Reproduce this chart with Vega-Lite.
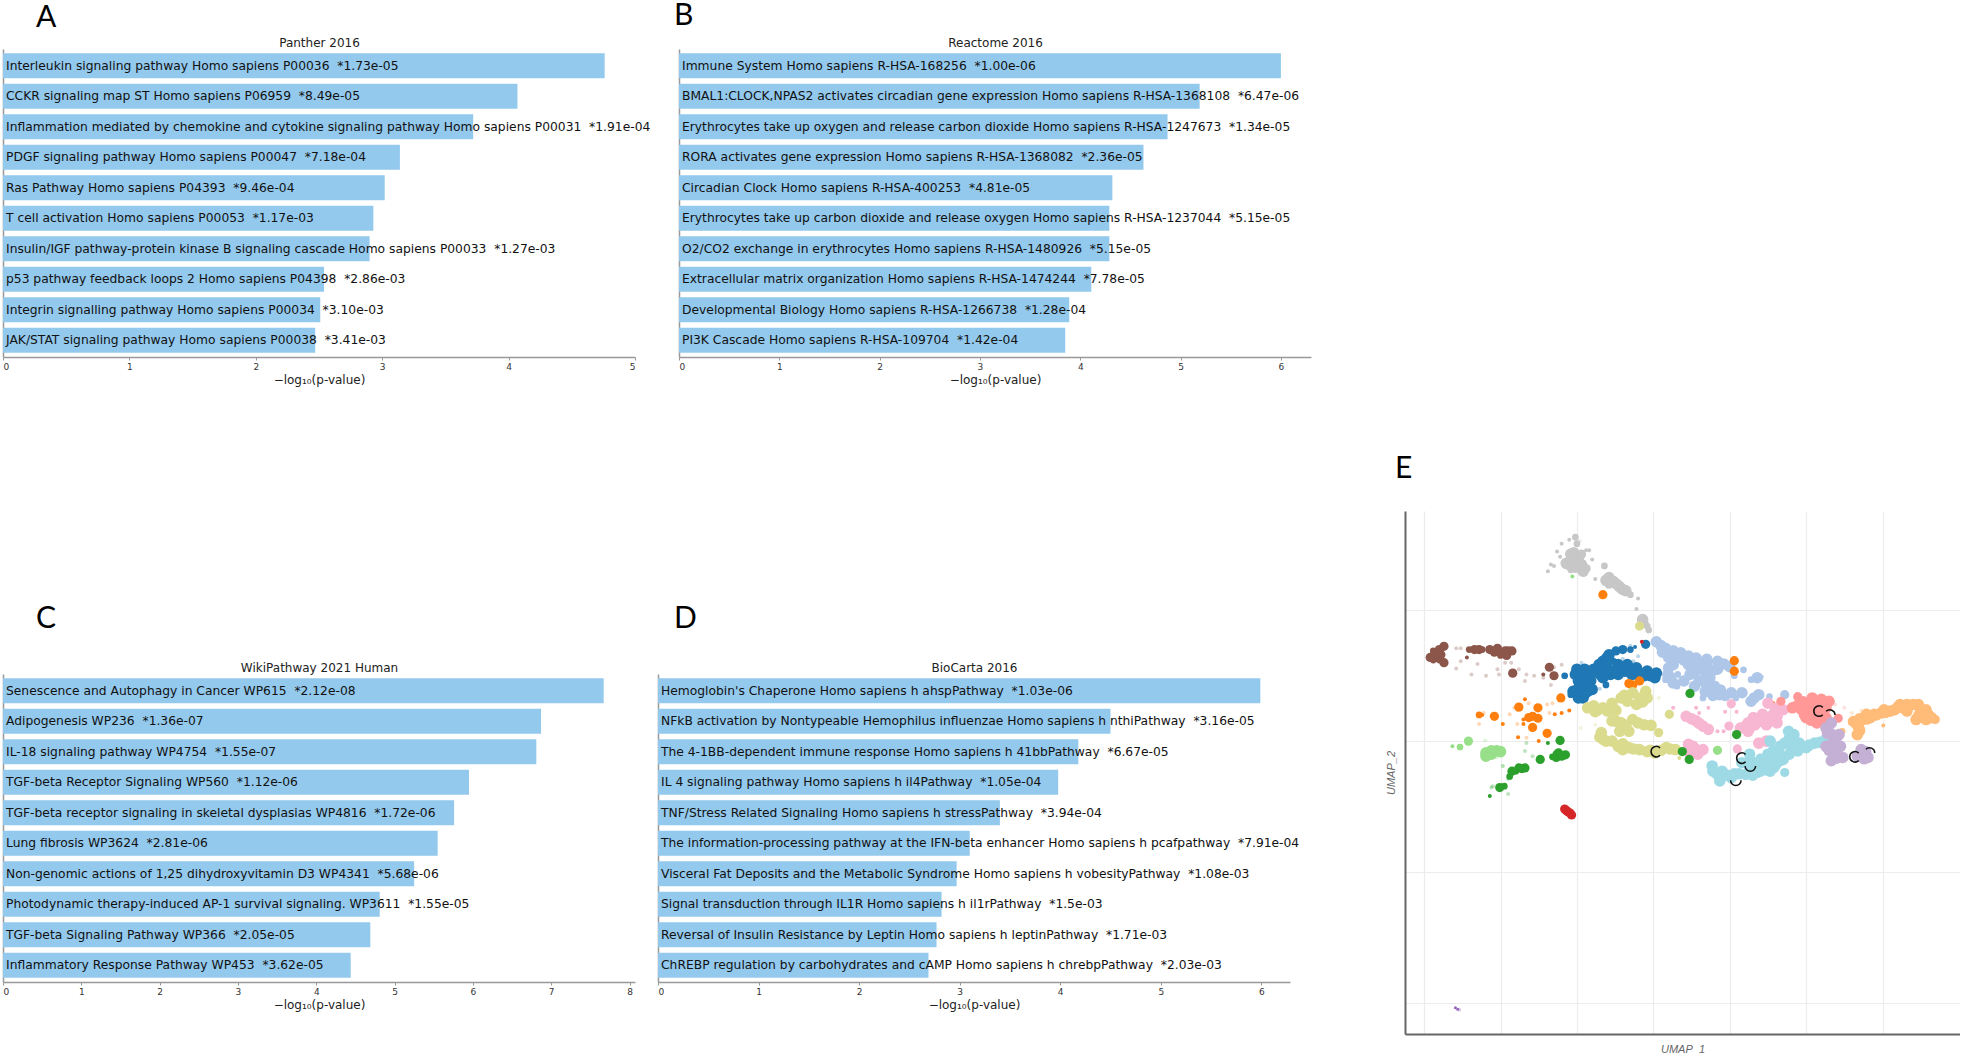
{"$schema":"https://vega.github.io/schema/vega-lite/v6.json","background":"white","padding":{"left":2,"top":1,"right":0,"bottom":0},
"config":{"view":{"stroke":null},"font":"DejaVu Sans","title":{"font":"Lato","fontSize":30,"fontWeight":"normal","color":"#000","anchor":"start","frame":"group","baseline":"bottom"}},
"hconcat":[
{"spacing":219,"vconcat":[
{"bounds":"flush","spacing":44,"hconcat":[
{"width":632,"height":308,"title":{"text":"A","dx":33,"offset":3},"data":{"values":[
{"label":"Interleukin signaling pathway Homo sapiens P00036 \u00a0*1.73e-05","value":4.76},
{"label":"CCKR signaling map ST Homo sapiens P06959 \u00a0*8.49e-05","value":4.07},
{"label":"Inflammation mediated by chemokine and cytokine signaling pathway Homo sapiens P00031 \u00a0*1.91e-04","value":3.72},
{"label":"PDGF signaling pathway Homo sapiens P00047 \u00a0*7.18e-04","value":3.14},
{"label":"Ras Pathway Homo sapiens P04393 \u00a0*9.46e-04","value":3.02},
{"label":"T cell activation Homo sapiens P00053 \u00a0*1.17e-03","value":2.93},
{"label":"Insulin/IGF pathway-protein kinase B signaling cascade Homo sapiens P00033 \u00a0*1.27e-03","value":2.90},
{"label":"p53 pathway feedback loops 2 Homo sapiens P04398 \u00a0*2.86e-03","value":2.54},
{"label":"Integrin signalling pathway Homo sapiens P00034 \u00a0*3.10e-03","value":2.51},
{"label":"JAK/STAT signaling pathway Homo sapiens P00038 \u00a0*3.41e-03","value":2.47}]},
"encoding":{"y":{"field":"label","type":"nominal","sort":null,"scale":{"paddingInner":0.18,"paddingOuter":0.139},"axis":{"labels":false,"ticks":false,"title":null,"domainColor":"#999","domainWidth":1.5,"grid":false}}},
"layer":[
{"mark":{"type":"bar","color":"#93C9ED"},"encoding":{"x":{"field":"value","type":"quantitative","scale":{"domain":[0,5],"nice":false},"axis":{"orient":"bottom","values":[0,1,2,3,4,5],"grid":false,"format":"d","domainColor":"#999","domainWidth":1.5,"tickColor":"#999","tickSize":3,"labelFontSize":9,"labelColor":"#333","labelPadding":2,"title":"−log₁₀(p-value)","titleFontSize":12,"titleFontWeight":"normal","titleColor":"#222","titlePadding":3}}}},
{"mark":{"type":"text","align":"left","dx":3,"fontSize":12.3,"color":"#111"},"encoding":{"text":{"field":"label"},"x":{"datum":0,"type":"quantitative","scale":{"domain":[0,5],"nice":false},"axis":{"orient":"top","labels":false,"ticks":false,"domain":false,"grid":false,"title":"Panther 2016","titleFontSize":12,"titleFontWeight":"normal","titleColor":"#222","titlePadding":0}}}}
]},
{"width":632,"height":308,"title":{"text":"B","dx":-5,"offset":5},"data":{"values":[
{"label":"Immune System Homo sapiens R-HSA-168256 \u00a0*1.00e-06","value":6.00},
{"label":"BMAL1:CLOCK,NPAS2 activates circadian gene expression Homo sapiens R-HSA-1368108 \u00a0*6.47e-06","value":5.19},
{"label":"Erythrocytes take up oxygen and release carbon dioxide Homo sapiens R-HSA-1247673 \u00a0*1.34e-05","value":4.87},
{"label":"RORA activates gene expression Homo sapiens R-HSA-1368082 \u00a0*2.36e-05","value":4.63},
{"label":"Circadian Clock Homo sapiens R-HSA-400253 \u00a0*4.81e-05","value":4.32},
{"label":"Erythrocytes take up carbon dioxide and release oxygen Homo sapiens R-HSA-1237044 \u00a0*5.15e-05","value":4.29},
{"label":"O2/CO2 exchange in erythrocytes Homo sapiens R-HSA-1480926 \u00a0*5.15e-05","value":4.29},
{"label":"Extracellular matrix organization Homo sapiens R-HSA-1474244 \u00a0*7.78e-05","value":4.11},
{"label":"Developmental Biology Homo sapiens R-HSA-1266738 \u00a0*1.28e-04","value":3.89},
{"label":"PI3K Cascade Homo sapiens R-HSA-109704 \u00a0*1.42e-04","value":3.85}]},
"encoding":{"y":{"field":"label","type":"nominal","sort":null,"scale":{"paddingInner":0.18,"paddingOuter":0.139},"axis":{"labels":false,"ticks":false,"title":null,"domainColor":"#999","domainWidth":1.5,"grid":false}}},
"layer":[
{"mark":{"type":"bar","color":"#93C9ED"},"encoding":{"x":{"field":"value","type":"quantitative","scale":{"domain":[0,6.3],"nice":false},"axis":{"orient":"bottom","values":[0,1,2,3,4,5,6],"grid":false,"format":"d","domainColor":"#999","domainWidth":1.5,"tickColor":"#999","tickSize":3,"labelFontSize":9,"labelColor":"#333","labelPadding":2,"title":"−log₁₀(p-value)","titleFontSize":12,"titleFontWeight":"normal","titleColor":"#222","titlePadding":3}}}},
{"mark":{"type":"text","align":"left","dx":3,"fontSize":12.3,"color":"#111"},"encoding":{"text":{"field":"label"},"x":{"datum":0,"type":"quantitative","scale":{"domain":[0,6.3],"nice":false},"axis":{"orient":"top","labels":false,"ticks":false,"domain":false,"grid":false,"title":"Reactome 2016","titleFontSize":12,"titleFontWeight":"normal","titleColor":"#222","titlePadding":0}}}}
]}
]},
{"bounds":"flush","spacing":23,"hconcat":[
{"width":632,"height":308,"title":{"text":"C","dx":33,"offset":27},"data":{"values":[
{"label":"Senescence and Autophagy in Cancer WP615 \u00a0*2.12e-08","value":7.67},
{"label":"Adipogenesis WP236 \u00a0*1.36e-07","value":6.87},
{"label":"IL-18 signaling pathway WP4754 \u00a0*1.55e-07","value":6.81},
{"label":"TGF-beta Receptor Signaling WP560 \u00a0*1.12e-06","value":5.95},
{"label":"TGF-beta receptor signaling in skeletal dysplasias WP4816 \u00a0*1.72e-06","value":5.76},
{"label":"Lung fibrosis WP3624 \u00a0*2.81e-06","value":5.55},
{"label":"Non-genomic actions of 1,25 dihydroxyvitamin D3 WP4341 \u00a0*5.68e-06","value":5.25},
{"label":"Photodynamic therapy-induced AP-1 survival signaling. WP3611 \u00a0*1.55e-05","value":4.81},
{"label":"TGF-beta Signaling Pathway WP366 \u00a0*2.05e-05","value":4.69},
{"label":"Inflammatory Response Pathway WP453 \u00a0*3.62e-05","value":4.44}]},
"encoding":{"y":{"field":"label","type":"nominal","sort":null,"scale":{"paddingInner":0.18,"paddingOuter":0.139},"axis":{"labels":false,"ticks":false,"title":null,"domainColor":"#999","domainWidth":1.5,"grid":false}}},
"layer":[
{"mark":{"type":"bar","color":"#93C9ED"},"encoding":{"x":{"field":"value","type":"quantitative","scale":{"domain":[0,8.07],"nice":false},"axis":{"orient":"bottom","values":[0,1,2,3,4,5,6,7,8],"grid":false,"format":"d","domainColor":"#999","domainWidth":1.5,"tickColor":"#999","tickSize":3,"labelFontSize":9,"labelColor":"#333","labelPadding":2,"title":"−log₁₀(p-value)","titleFontSize":12,"titleFontWeight":"normal","titleColor":"#222","titlePadding":3}}}},
{"mark":{"type":"text","align":"left","dx":3,"fontSize":12.3,"color":"#111"},"encoding":{"text":{"field":"label"},"x":{"datum":0,"type":"quantitative","scale":{"domain":[0,8.07],"nice":false},"axis":{"orient":"top","labels":false,"ticks":false,"domain":false,"grid":false,"title":"WikiPathway 2021 Human","titleFontSize":12,"titleFontWeight":"normal","titleColor":"#222","titlePadding":0}}}}
]},
{"width":632,"height":308,"title":{"text":"D","dx":16,"offset":27},"data":{"values":[
{"label":"Hemoglobin's Chaperone Homo sapiens h ahspPathway \u00a0*1.03e-06","value":5.99},
{"label":"NFkB activation by Nontypeable Hemophilus influenzae Homo sapiens h nthiPathway \u00a0*3.16e-05","value":4.50},
{"label":"The 4-1BB-dependent immune response Homo sapiens h 41bbPathway \u00a0*6.67e-05","value":4.18},
{"label":"IL 4 signaling pathway Homo sapiens h il4Pathway \u00a0*1.05e-04","value":3.98},
{"label":"TNF/Stress Related Signaling Homo sapiens h stressPathway \u00a0*3.94e-04","value":3.40},
{"label":"The information-processing pathway at the IFN-beta enhancer Homo sapiens h pcafpathway \u00a0*7.91e-04","value":3.10},
{"label":"Visceral Fat Deposits and the Metabolic Syndrome Homo sapiens h vobesityPathway \u00a0*1.08e-03","value":2.97},
{"label":"Signal transduction through IL1R Homo sapiens h il1rPathway \u00a0*1.5e-03","value":2.82},
{"label":"Reversal of Insulin Resistance by Leptin Homo sapiens h leptinPathway \u00a0*1.71e-03","value":2.77},
{"label":"ChREBP regulation by carbohydrates and cAMP Homo sapiens h chrebpPathway \u00a0*2.03e-03","value":2.69}]},
"encoding":{"y":{"field":"label","type":"nominal","sort":null,"scale":{"paddingInner":0.18,"paddingOuter":0.139},"axis":{"labels":false,"ticks":false,"title":null,"domainColor":"#999","domainWidth":1.5,"grid":false}}},
"layer":[
{"mark":{"type":"bar","color":"#93C9ED"},"encoding":{"x":{"field":"value","type":"quantitative","scale":{"domain":[0,6.285],"nice":false},"axis":{"orient":"bottom","values":[0,1,2,3,4,5,6],"grid":false,"format":"d","domainColor":"#999","domainWidth":1.5,"tickColor":"#999","tickSize":3,"labelFontSize":9,"labelColor":"#333","labelPadding":2,"title":"−log₁₀(p-value)","titleFontSize":12,"titleFontWeight":"normal","titleColor":"#222","titlePadding":3}}}},
{"mark":{"type":"text","align":"left","dx":3,"fontSize":12.3,"color":"#111"},"encoding":{"text":{"field":"label"},"x":{"datum":0,"type":"quantitative","scale":{"domain":[0,6.285],"nice":false},"axis":{"orient":"top","labels":false,"ticks":false,"domain":false,"grid":false,"title":"BioCarta 2016","titleFontSize":12,"titleFontWeight":"normal","titleColor":"#222","titlePadding":0}}}}
]}
]}
]},
{"bounds":"flush","spacing":0,"vconcat":[
{"width":555,"height":462,"data":{"values":[{"spacer":""}]},"mark":{"type":"text"},"encoding":{"text":{"field":"spacer"}}},
{"width":555,"height":523,"title":{"text":"E","dx":-10,"offset":27},
"layer":[
{"data":{"values":[
{"a":-5.1,"b":15.6,"c":"grey","d":"m"},{"a":-5.5,"b":15.4,"c":"grey","d":"s"},{"a":-6.0,"b":15.1,"c":"grey","d":"s"},{"a":-5.0,"b":15.1,"c":"grey","d":"m"},{"a":-4.8,"b":15.3,"c":"grey","d":"f"},{"a":-6.3,"b":14.5,"c":"grey","d":"s"},{"a":-5.2,"b":14.4,"c":"grey","d":"l"},{"a":-4.9,"b":14.1,"c":"grey","d":"l"},{"a":-4.4,"b":14.6,"c":"grey","d":"s"},{"a":-4.2,"b":14.6,"c":"grey","d":"s"},{"a":-6.1,"b":14.1,"c":"grey","d":"s"},{"a":-5.5,"b":13.5,"c":"grey","d":"l"},{"a":-5.7,"b":13.6,"c":"grey","d":"l"},{"a":-5.0,"b":13.6,"c":"grey","d":"l"},{"a":-4.6,"b":13.0,"c":"grey","d":"l"},{"a":-5.4,"b":13.1,"c":"grey","d":"m"},{"a":-4.5,"b":12.85,"c":"grey","d":"m"},{"a":-6.7,"b":13.5,"c":"grey","d":"s"},{"a":-6.9,"b":13.0,"c":"grey","d":"s"},{"a":-6.5,"b":13.4,"c":"grey","d":"s"},{"a":-4.0,"b":13.9,"c":"grey","d":"s"},{"a":-3.2,"b":13.4,"c":"grey","d":"m"},{"a":-3.8,"b":12.4,"c":"grey","d":"s"},{"a":-3.1,"b":12.3,"c":"grey","d":"l"},{"a":-2.6,"b":12.2,"c":"grey","d":"l"},{"a":-2.2,"b":11.8,"c":"grey","d":"l"},{"a":-1.8,"b":11.5,"c":"grey","d":"l"},{"a":-1.5,"b":11.2,"c":"grey","d":"m"},{"a":-1.0,"b":10.9,"c":"grey","d":"s"},{"a":-1.1,"b":10.1,"c":"grey","d":"s"},{"a":-0.7,"b":9.3,"c":"grey","d":"l"},{"a":-0.4,"b":8.8,"c":"grey","d":"m"},{"a":-0.3,"b":8.5,"c":"grey","d":"m"},{"a":-5.3,"b":14.0,"c":"grey","d":"l"},{"a":-4.7,"b":13.5,"c":"grey","d":"l"},{"a":-2.9,"b":12.5,"c":"grey","d":"l"},{"a":-2.4,"b":12.0,"c":"grey","d":"l"},{"a":-5.1,"b":13.9,"c":"grey","d":"l"},{"a":-5.4,"b":14.3,"c":"grey","d":"l"},{"a":-4.7,"b":14.3,"c":"grey","d":"i"},{"a":-5.1,"b":13.3,"c":"grey","d":"l"},{"a":-4.4,"b":13.2,"c":"grey","d":"i"},{"a":-2.9,"b":12.0,"c":"grey","d":"i"},{"a":-2.0,"b":11.6,"c":"grey","d":"l"},{"a":-0.6,"b":9.0,"c":"grey","d":"i"},
{"a":-12.9,"b":7.1,"c":"brown","d":"f"},{"a":-12.6,"b":7.1,"c":"brown","d":"f"},{"a":-12.6,"b":6.1,"c":"brown","d":"f"},{"a":-12.9,"b":5.55,"c":"brown","d":"f"},{"a":-11.9,"b":5.1,"c":"brown","d":"f"},{"a":-11.5,"b":5.9,"c":"brown","d":"f"},{"a":-10.95,"b":5.0,"c":"brown","d":"f"},{"a":-10.2,"b":5.5,"c":"brown","d":"f"},{"a":-10.1,"b":5.1,"c":"brown","d":"f"},{"a":-9.7,"b":6.0,"c":"brown","d":"f"},{"a":-9.3,"b":6.0,"c":"brown","d":"f"},{"a":-8.8,"b":5.5,"c":"brown","d":"f"},{"a":-8.3,"b":5.1,"c":"brown","d":"f"},{"a":-7.8,"b":5.0,"c":"brown","d":"f"},{"a":-7.2,"b":4.85,"c":"brown","d":"f"},{"a":-6.0,"b":5.85,"c":"brown","d":"f"},{"a":-6.5,"b":5.65,"c":"brown","d":"f"},{"a":-6.7,"b":4.3,"c":"brown","d":"f"},{"a":-8.4,"b":4.6,"c":"brown","d":"f"},
{"a":-13.7,"b":7.25,"c":"brown","d":"i"},{"a":-14.0,"b":7.0,"c":"brown","d":"i"},{"a":-14.2,"b":6.7,"c":"brown","d":"i"},{"a":-14.6,"b":6.4,"c":"brown","d":"i"},{"a":-14.2,"b":6.4,"c":"brown","d":"i"},{"a":-13.7,"b":6.0,"c":"brown","d":"i"},{"a":-14.0,"b":6.2,"c":"brown","d":"m"},{"a":-12.05,"b":7.0,"c":"brown","d":"m"},{"a":-11.7,"b":7.0,"c":"brown","d":"i"},{"a":-11.4,"b":7.0,"c":"brown","d":"i"},{"a":-10.7,"b":7.0,"c":"brown","d":"i"},{"a":-10.2,"b":7.1,"c":"brown","d":"i"},{"a":-9.9,"b":6.75,"c":"brown","d":"i"},{"a":-9.5,"b":6.9,"c":"brown","d":"i"},{"a":-9.25,"b":6.9,"c":"brown","d":"i"},{"a":-9.6,"b":6.55,"c":"brown","d":"i"},{"a":-10.0,"b":6.55,"c":"brown","d":"m"},{"a":-12.2,"b":6.4,"c":"brown","d":"s"},{"a":-6.8,"b":5.65,"c":"brown","d":"i"},{"a":-6.5,"b":5.0,"c":"brown","d":"i"},{"a":-9.2,"b":5.2,"c":"brown","d":"i"},{"a":-7.2,"b":5.1,"c":"brown","d":"s"},{"a":-14.4,"b":6.9,"c":"brown","d":"m"},{"a":-13.9,"b":6.6,"c":"brown","d":"i"},{"a":-14.4,"b":6.2,"c":"brown","d":"m"},{"a":-11.2,"b":7.0,"c":"brown","d":"m"},{"a":-10.4,"b":6.8,"c":"brown","d":"i"},{"a":-9.7,"b":6.9,"c":"brown","d":"i"},
{"a":-4.7,"b":6.0,"c":"blue","d":"f"},{"a":-1.3,"b":6.1,"c":"blue","d":"f"},{"a":-1.0,"b":6.5,"c":"blue","d":"f"},{"a":-2.0,"b":6.3,"c":"blue","d":"f"},{"a":-1.5,"b":7.3,"c":"blue","d":"f"},{"a":-3.5,"b":4.0,"c":"blue","d":"f"},
{"a":-5.8,"b":5.0,"c":"blue","d":"m"},{"a":-5.0,"b":5.5,"c":"blue","d":"l"},{"a":-4.5,"b":5.5,"c":"blue","d":"l"},{"a":-4.0,"b":5.2,"c":"blue","d":"l"},{"a":-4.6,"b":4.8,"c":"blue","d":"l"},{"a":-5.1,"b":5.1,"c":"blue","d":"l"},{"a":-3.55,"b":5.85,"c":"blue","d":"l"},{"a":-3.3,"b":6.1,"c":"blue","d":"l"},{"a":-2.9,"b":6.6,"c":"blue","d":"l"},{"a":-2.45,"b":6.9,"c":"blue","d":"i"},{"a":-2.0,"b":7.0,"c":"blue","d":"i"},{"a":-1.5,"b":7.0,"c":"blue","d":"m"},{"a":-0.5,"b":7.4,"c":"blue","d":"i"},{"a":-2.3,"b":5.85,"c":"blue","d":"l"},{"a":-1.85,"b":5.35,"c":"blue","d":"l"},{"a":-1.1,"b":5.6,"c":"blue","d":"l"},{"a":-0.4,"b":5.35,"c":"blue","d":"l"},{"a":0.1,"b":4.85,"c":"blue","d":"l"},{"a":0.2,"b":5.2,"c":"blue","d":"l"},{"a":-0.9,"b":4.95,"c":"blue","d":"l"},{"a":-2.3,"b":5.1,"c":"blue","d":"l"},{"a":-2.8,"b":5.1,"c":"blue","d":"l"},{"a":-3.3,"b":4.85,"c":"blue","d":"l"},{"a":-3.1,"b":4.3,"c":"blue","d":"m"},{"a":-4.3,"b":4.45,"c":"blue","d":"l"},{"a":-4.8,"b":4.2,"c":"blue","d":"l"},{"a":-5.25,"b":3.8,"c":"blue","d":"l"},{"a":-4.6,"b":3.3,"c":"blue","d":"l"},{"a":-5.4,"b":3.55,"c":"blue","d":"m"},{"a":-4.9,"b":3.7,"c":"blue","d":"l"},{"a":-4.0,"b":3.95,"c":"blue","d":"l"},{"a":-2.6,"b":5.35,"c":"blue","d":"l"},{"a":-1.7,"b":5.85,"c":"blue","d":"l"},{"a":-3.55,"b":5.35,"c":"blue","d":"l"},{"a":-3.05,"b":6.35,"c":"blue","d":"l"},{"a":-2.6,"b":6.1,"c":"blue","d":"m"},{"a":-4.7,"b":4.0,"c":"blue","d":"l"},{"a":-4.9,"b":3.3,"c":"blue","d":"l"},{"a":-4.3,"b":3.8,"c":"blue","d":"l"},{"a":-3.9,"b":5.5,"c":"blue","d":"l"},{"a":-1.4,"b":5.1,"c":"blue","d":"l"},{"a":-0.6,"b":5.0,"c":"blue","d":"l"},{"a":-2.1,"b":5.6,"c":"blue","d":"l"},{"a":-3.3,"b":5.6,"c":"blue","d":"l"},{"a":-1.2,"b":7.2,"c":"blue","d":"s"},{"a":-4.4,"b":5.0,"c":"blue","d":"l"},{"a":-4.9,"b":4.6,"c":"blue","d":"l"},{"a":-4.1,"b":4.6,"c":"blue","d":"l"},{"a":-5.0,"b":3.9,"c":"blue","d":"l"},{"a":-4.5,"b":3.6,"c":"blue","d":"l"},{"a":-3.0,"b":5.5,"c":"blue","d":"l"},{"a":-1.0,"b":5.3,"c":"blue","d":"l"},{"a":-0.2,"b":5.0,"c":"blue","d":"l"},{"a":-2.9,"b":6.2,"c":"blue","d":"l"},{"a":-3.5,"b":5.0,"c":"blue","d":"i"},
{"a":0.2,"b":7.6,"c":"lblue","d":"l"},{"a":0.8,"b":7.1,"c":"lblue","d":"l"},{"a":1.3,"b":6.9,"c":"lblue","d":"l"},{"a":1.8,"b":6.75,"c":"lblue","d":"l"},{"a":2.3,"b":6.5,"c":"lblue","d":"l"},{"a":2.8,"b":6.35,"c":"lblue","d":"l"},{"a":3.5,"b":6.25,"c":"lblue","d":"l"},{"a":4.2,"b":6.1,"c":"lblue","d":"l"},{"a":1.3,"b":5.85,"c":"lblue","d":"l"},{"a":2.3,"b":5.85,"c":"lblue","d":"l"},{"a":3.5,"b":5.85,"c":"lblue","d":"l"},{"a":4.2,"b":5.5,"c":"lblue","d":"l"},{"a":3.0,"b":5.5,"c":"lblue","d":"m"},{"a":0.95,"b":5.1,"c":"lblue","d":"l"},{"a":1.3,"b":4.45,"c":"lblue","d":"l"},{"a":0.8,"b":4.7,"c":"lblue","d":"m"},{"a":1.55,"b":4.2,"c":"lblue","d":"m"},{"a":2.4,"b":5.1,"c":"lblue","d":"l"},{"a":2.0,"b":4.6,"c":"lblue","d":"l"},{"a":3.0,"b":4.6,"c":"lblue","d":"l"},{"a":3.7,"b":4.85,"c":"lblue","d":"l"},{"a":3.4,"b":3.8,"c":"lblue","d":"l"},{"a":3.25,"b":3.3,"c":"lblue","d":"m"},{"a":4.35,"b":3.55,"c":"lblue","d":"l"},{"a":5.1,"b":3.7,"c":"lblue","d":"l"},{"a":5.8,"b":3.7,"c":"lblue","d":"l"},{"a":5.9,"b":5.45,"c":"lblue","d":"m"},{"a":6.8,"b":4.85,"c":"lblue","d":"l"},{"a":6.4,"b":4.7,"c":"lblue","d":"m"},{"a":7.1,"b":4.9,"c":"lblue","d":"s"},{"a":6.4,"b":3.05,"c":"lblue","d":"l"},{"a":6.9,"b":3.55,"c":"lblue","d":"l"},{"a":7.6,"b":3.4,"c":"lblue","d":"m"},{"a":8.6,"b":3.55,"c":"lblue","d":"i"},{"a":5.3,"b":5.0,"c":"lblue","d":"m"},{"a":4.0,"b":4.2,"c":"lblue","d":"l"},{"a":0.5,"b":7.3,"c":"lblue","d":"l"},{"a":1.6,"b":6.4,"c":"lblue","d":"l"},{"a":3.2,"b":6.0,"c":"lblue","d":"l"},{"a":2.7,"b":4.2,"c":"lblue","d":"l"},{"a":3.5,"b":4.3,"c":"lblue","d":"l"},{"a":4.7,"b":3.5,"c":"lblue","d":"l"},{"a":1.0,"b":6.4,"c":"lblue","d":"l"},{"a":5.0,"b":5.7,"c":"lblue","d":"l"},{"a":3.9,"b":3.5,"c":"lblue","d":"l"},{"a":0.6,"b":6.8,"c":"lblue","d":"l"},{"a":1.0,"b":5.6,"c":"lblue","d":"l"},{"a":1.6,"b":5.1,"c":"lblue","d":"m"},{"a":2.7,"b":5.3,"c":"lblue","d":"l"},{"a":3.9,"b":5.4,"c":"lblue","d":"l"},{"a":3.4,"b":5.2,"c":"lblue","d":"l"},{"a":2.0,"b":6.2,"c":"lblue","d":"l"},{"a":2.7,"b":5.9,"c":"lblue","d":"l"},{"a":4.6,"b":5.9,"c":"lblue","d":"l"},{"a":4.4,"b":3.9,"c":"lblue","d":"l"},{"a":5.4,"b":3.3,"c":"lblue","d":"m"},{"a":6.6,"b":3.3,"c":"lblue","d":"l"},{"a":1.1,"b":4.9,"c":"lblue","d":"l"},
{"a":-11.1,"b":2.15,"c":"orange","d":"f"},{"a":-11.4,"b":1.3,"c":"orange","d":"f"},{"a":-9.4,"b":2.05,"c":"orange","d":"f"},{"a":-9.1,"b":2.55,"c":"orange","d":"f"},{"a":-8.15,"b":2.9,"c":"orange","d":"f"},{"a":-6.8,"b":2.15,"c":"orange","d":"f"},{"a":-6.95,"b":2.8,"c":"orange","d":"f"},{"a":-8.9,"b":1.3,"c":"orange","d":"f"},{"a":-8.3,"b":0.25,"c":"orange","d":"f"},{"a":-6.6,"b":2.9,"c":"orange","d":"f"},
{"a":-3.3,"b":11.2,"c":"orange","d":"i"},{"a":5.3,"b":6.15,"c":"orange","d":"i"},{"a":5.3,"b":5.35,"c":"orange","d":"i"},{"a":-1.6,"b":4.4,"c":"orange","d":"i"},{"a":-1.35,"b":4.3,"c":"orange","d":"i"},{"a":-0.9,"b":4.6,"c":"orange","d":"i"},{"a":-6.05,"b":3.3,"c":"orange","d":"i"},{"a":-8.8,"b":2.6,"c":"orange","d":"i"},{"a":-10.4,"b":1.9,"c":"orange","d":"i"},{"a":-7.9,"b":1.9,"c":"orange","d":"i"},{"a":-7.55,"b":2.55,"c":"orange","d":"i"},{"a":-8.15,"b":1.8,"c":"orange","d":"i"},{"a":-7.55,"b":1.75,"c":"orange","d":"i"},{"a":-7.9,"b":1.05,"c":"orange","d":"i"},{"a":-6.95,"b":0.6,"c":"orange","d":"i"},{"a":-11.4,"b":2.0,"c":"orange","d":"m"},{"a":-8.4,"b":3.2,"c":"orange","d":"s"},{"a":-9.85,"b":1.3,"c":"orange","d":"s"},{"a":-8.85,"b":0.3,"c":"orange","d":"s"},{"a":-7.5,"b":0.0,"c":"orange","d":"s"},{"a":-8.5,"b":1.65,"c":"orange","d":"s"},{"a":-8.5,"b":1.3,"c":"orange","d":"s"},{"a":-5.5,"b":2.35,"c":"orange","d":"s"},{"a":-6.0,"b":2.15,"c":"orange","d":"s"},{"a":-6.45,"b":2.05,"c":"orange","d":"s"},{"a":-11.2,"b":2.0,"c":"orange","d":"s"},{"a":7.85,"b":2.9,"c":"orange","d":"s"},
{"a":0.35,"b":3.3,"c":"olive","d":"f"},{"a":-4.75,"b":1.0,"c":"olive","d":"f"},{"a":-3.8,"b":1.25,"c":"olive","d":"f"},
{"a":-0.9,"b":8.8,"c":"olive","d":"i"},{"a":-2.1,"b":3.3,"c":"olive","d":"l"},{"a":-1.35,"b":3.7,"c":"olive","d":"l"},{"a":-0.5,"b":3.8,"c":"olive","d":"l"},{"a":-0.9,"b":3.3,"c":"olive","d":"l"},{"a":-1.1,"b":2.8,"c":"olive","d":"l"},{"a":-1.7,"b":3.05,"c":"olive","d":"l"},{"a":-0.4,"b":3.3,"c":"olive","d":"l"},{"a":-4.3,"b":2.55,"c":"olive","d":"l"},{"a":-3.8,"b":2.25,"c":"olive","d":"l"},{"a":-3.3,"b":2.55,"c":"olive","d":"l"},{"a":-2.7,"b":2.9,"c":"olive","d":"l"},{"a":-2.45,"b":2.35,"c":"olive","d":"l"},{"a":-2.7,"b":1.55,"c":"olive","d":"l"},{"a":-2.1,"b":1.4,"c":"olive","d":"l"},{"a":-1.35,"b":1.65,"c":"olive","d":"l"},{"a":-0.6,"b":1.25,"c":"olive","d":"l"},{"a":-0.15,"b":1.2,"c":"olive","d":"l"},{"a":-2.2,"b":0.75,"c":"olive","d":"l"},{"a":-1.6,"b":0.75,"c":"olive","d":"l"},{"a":-3.4,"b":0.65,"c":"olive","d":"l"},{"a":-3.3,"b":0.15,"c":"olive","d":"l"},{"a":-2.7,"b":0.0,"c":"olive","d":"l"},{"a":-2.3,"b":-0.4,"c":"olive","d":"l"},{"a":-1.6,"b":-0.5,"c":"olive","d":"l"},{"a":-0.9,"b":-0.65,"c":"olive","d":"l"},{"a":0.1,"b":-0.9,"c":"olive","d":"l"},{"a":0.85,"b":-0.5,"c":"olive","d":"l"},{"a":1.45,"b":-0.65,"c":"olive","d":"l"},{"a":-2.0,"b":-0.65,"c":"olive","d":"l"},{"a":1.05,"b":2.05,"c":"olive","d":"i"},{"a":0.35,"b":0.65,"c":"olive","d":"i"},{"a":1.7,"b":-1.3,"c":"olive","d":"s"},{"a":-0.4,"b":-0.8,"c":"olive","d":"l"},{"a":-1.9,"b":3.5,"c":"olive","d":"l"},{"a":-0.7,"b":3.0,"c":"olive","d":"l"},{"a":-3.9,"b":2.7,"c":"olive","d":"l"},{"a":-3.6,"b":2.4,"c":"olive","d":"l"},{"a":-3.0,"b":2.3,"c":"olive","d":"l"},{"a":-2.4,"b":1.5,"c":"olive","d":"l"},{"a":-1.8,"b":1.2,"c":"olive","d":"l"},{"a":-1.0,"b":1.4,"c":"olive","d":"l"},{"a":-3.1,"b":0.0,"c":"olive","d":"l"},{"a":-2.0,"b":-0.2,"c":"olive","d":"l"},{"a":-1.3,"b":-0.6,"c":"olive","d":"l"},{"a":-0.2,"b":-0.7,"c":"olive","d":"l"},{"a":0.5,"b":-0.7,"c":"olive","d":"l"},{"a":1.1,"b":-0.6,"c":"olive","d":"l"},{"a":-3.5,"b":0.3,"c":"olive","d":"l"},
{"a":5.1,"b":2.85,"c":"pink","d":"i"},{"a":2.15,"b":1.9,"c":"pink","d":"l"},{"a":2.8,"b":1.55,"c":"pink","d":"l"},{"a":3.25,"b":1.15,"c":"pink","d":"l"},{"a":3.6,"b":0.9,"c":"pink","d":"l"},{"a":2.3,"b":-0.25,"c":"pink","d":"l"},{"a":2.8,"b":-0.65,"c":"pink","d":"l"},{"a":3.25,"b":-0.65,"c":"pink","d":"l"},{"a":2.4,"b":-0.9,"c":"pink","d":"l"},{"a":2.9,"b":-1.0,"c":"pink","d":"l"},{"a":4.95,"b":1.15,"c":"pink","d":"i"},{"a":5.5,"b":-0.6,"c":"pink","d":"i"},{"a":6.05,"b":1.15,"c":"pink","d":"l"},{"a":6.55,"b":1.8,"c":"pink","d":"l"},{"a":7.15,"b":2.05,"c":"pink","d":"l"},{"a":7.85,"b":2.05,"c":"pink","d":"l"},{"a":8.5,"b":2.4,"c":"pink","d":"l"},{"a":7.5,"b":2.9,"c":"pink","d":"l"},{"a":6.65,"b":1.25,"c":"pink","d":"l"},{"a":7.4,"b":1.25,"c":"pink","d":"l"},{"a":8.1,"b":1.4,"c":"pink","d":"l"},{"a":6.2,"b":0.75,"c":"pink","d":"l"},{"a":5.7,"b":1.0,"c":"pink","d":"l"},{"a":6.9,"b":-0.15,"c":"pink","d":"l"},{"a":7.4,"b":0.0,"c":"pink","d":"l"},{"a":7.0,"b":1.7,"c":"pink","d":"l"},{"a":7.8,"b":1.7,"c":"pink","d":"l"},{"a":2.5,"b":1.7,"c":"pink","d":"l"},{"a":3.0,"b":1.35,"c":"pink","d":"l"},{"a":2.6,"b":-0.4,"c":"pink","d":"l"},{"a":3.0,"b":-0.8,"c":"pink","d":"l"},{"a":6.3,"b":1.0,"c":"pink","d":"l"},{"a":6.9,"b":1.5,"c":"pink","d":"l"},{"a":7.3,"b":1.65,"c":"pink","d":"l"},{"a":7.6,"b":1.5,"c":"pink","d":"l"},{"a":8.1,"b":1.9,"c":"pink","d":"l"},{"a":8.0,"b":2.5,"c":"pink","d":"l"},{"a":6.2,"b":1.4,"c":"pink","d":"l"},{"a":2.8,"b":2.55,"c":"pink","d":"s"},{"a":3.0,"b":2.15,"c":"pink","d":"s"},{"a":4.7,"b":2.25,"c":"pink","d":"s"},{"a":5.45,"b":2.25,"c":"pink","d":"s"},{"a":4.2,"b":0.75,"c":"pink","d":"s"},{"a":4.6,"b":0.75,"c":"pink","d":"s"},{"a":3.6,"b":2.55,"c":"pink","d":"s"},{"a":1.3,"b":2.55,"c":"pink","d":"s"},
{"a":12.5,"b":2.55,"c":"salmon","d":"f"},{"a":11.9,"b":2.8,"c":"salmon","d":"f"},
{"a":9.45,"b":3.4,"c":"salmon","d":"i"},{"a":10.4,"b":3.3,"c":"salmon","d":"l"},{"a":11.0,"b":3.2,"c":"salmon","d":"l"},{"a":11.5,"b":3.05,"c":"salmon","d":"l"},{"a":9.1,"b":2.55,"c":"salmon","d":"l"},{"a":9.7,"b":2.4,"c":"salmon","d":"l"},{"a":10.55,"b":2.55,"c":"salmon","d":"l"},{"a":11.3,"b":2.55,"c":"salmon","d":"l"},{"a":10.0,"b":1.8,"c":"salmon","d":"l"},{"a":10.7,"b":1.4,"c":"salmon","d":"l"},{"a":11.15,"b":1.5,"c":"salmon","d":"l"},{"a":12.1,"b":1.75,"c":"salmon","d":"i"},{"a":8.35,"b":3.05,"c":"salmon","d":"i"},{"a":9.9,"b":2.0,"c":"salmon","d":"l"},{"a":10.4,"b":2.1,"c":"salmon","d":"l"},{"a":10.9,"b":2.9,"c":"salmon","d":"l"},{"a":10.2,"b":2.9,"c":"salmon","d":"l"},{"a":11.0,"b":1.9,"c":"salmon","d":"l"},{"a":9.4,"b":2.7,"c":"salmon","d":"l"},{"a":9.7,"b":2.9,"c":"salmon","d":"l"},{"a":9.9,"b":2.5,"c":"salmon","d":"l"},{"a":10.3,"b":1.6,"c":"salmon","d":"l"},{"a":10.9,"b":2.4,"c":"salmon","d":"l"},{"a":10.2,"b":2.5,"c":"salmon","d":"l"},{"a":10.7,"b":1.9,"c":"salmon","d":"l"},{"a":9.8,"b":3.0,"c":"salmon","d":"l"},{"a":10.5,"b":3.0,"c":"salmon","d":"l"},{"a":11.2,"b":2.9,"c":"salmon","d":"l"},{"a":11.3,"b":1.8,"c":"salmon","d":"l"},
{"a":13.6,"b":2.35,"c":"lorange","d":"f"},{"a":13.0,"b":2.15,"c":"lorange","d":"f"},
{"a":13.1,"b":1.5,"c":"lorange","d":"l"},{"a":13.7,"b":1.65,"c":"lorange","d":"l"},{"a":13.45,"b":1.0,"c":"lorange","d":"l"},{"a":13.35,"b":0.5,"c":"lorange","d":"l"},{"a":14.45,"b":2.05,"c":"lorange","d":"l"},{"a":14.9,"b":2.15,"c":"lorange","d":"l"},{"a":15.5,"b":2.3,"c":"lorange","d":"l"},{"a":16.15,"b":2.8,"c":"lorange","d":"l"},{"a":16.6,"b":2.8,"c":"lorange","d":"l"},{"a":17.35,"b":2.8,"c":"lorange","d":"l"},{"a":17.85,"b":2.4,"c":"lorange","d":"l"},{"a":17.2,"b":1.65,"c":"lorange","d":"l"},{"a":17.85,"b":1.65,"c":"lorange","d":"l"},{"a":18.45,"b":1.65,"c":"lorange","d":"i"},{"a":16.6,"b":2.3,"c":"lorange","d":"l"},{"a":13.95,"b":2.05,"c":"lorange","d":"l"},{"a":15.1,"b":2.4,"c":"lorange","d":"l"},{"a":16.0,"b":2.6,"c":"lorange","d":"l"},{"a":17.6,"b":2.0,"c":"lorange","d":"l"},{"a":14.2,"b":1.8,"c":"lorange","d":"l"},{"a":15.05,"b":1.2,"c":"lorange","d":"s"},{"a":12.35,"b":0.75,"c":"lorange","d":"m"},{"a":13.3,"b":1.3,"c":"lorange","d":"l"},{"a":13.5,"b":0.8,"c":"lorange","d":"l"},{"a":14.6,"b":2.0,"c":"lorange","d":"l"},{"a":15.2,"b":2.2,"c":"lorange","d":"l"},{"a":15.8,"b":2.4,"c":"lorange","d":"l"},{"a":16.4,"b":2.5,"c":"lorange","d":"l"},{"a":17.0,"b":2.8,"c":"lorange","d":"l"},{"a":17.5,"b":2.4,"c":"lorange","d":"l"},{"a":17.4,"b":2.0,"c":"lorange","d":"l"},{"a":17.3,"b":1.8,"c":"lorange","d":"l"},{"a":18.0,"b":2.0,"c":"lorange","d":"l"},{"a":18.2,"b":1.8,"c":"lorange","d":"l"},{"a":14.0,"b":1.7,"c":"lorange","d":"l"},{"a":13.5,"b":1.7,"c":"lorange","d":"l"},
{"a":3.85,"b":-1.9,"c":"cyan","d":"l"},{"a":4.2,"b":-2.55,"c":"cyan","d":"l"},{"a":4.35,"b":-3.05,"c":"cyan","d":"l"},{"a":5.1,"b":-2.8,"c":"cyan","d":"l"},{"a":6.05,"b":-2.55,"c":"cyan","d":"l"},{"a":6.8,"b":-2.4,"c":"cyan","d":"l"},{"a":7.65,"b":-2.3,"c":"cyan","d":"l"},{"a":8.6,"b":-2.4,"c":"cyan","d":"i"},{"a":7.65,"b":-1.25,"c":"cyan","d":"l"},{"a":7.85,"b":-0.75,"c":"cyan","d":"l"},{"a":8.6,"b":-0.15,"c":"cyan","d":"l"},{"a":9.2,"b":0.5,"c":"cyan","d":"l"},{"a":9.55,"b":-0.15,"c":"cyan","d":"l"},{"a":10.55,"b":-0.15,"c":"cyan","d":"l"},{"a":11.3,"b":0.15,"c":"cyan","d":"l"},{"a":8.5,"b":-1.4,"c":"cyan","d":"l"},{"a":9.45,"b":-0.75,"c":"cyan","d":"l"},{"a":6.3,"b":-1.0,"c":"cyan","d":"l"},{"a":6.65,"b":-1.65,"c":"cyan","d":"l"},{"a":5.8,"b":-1.65,"c":"cyan","d":"l"},{"a":7.65,"b":0.0,"c":"cyan","d":"l"},{"a":8.85,"b":0.75,"c":"cyan","d":"l"},{"a":4.8,"b":-2.6,"c":"cyan","d":"l"},{"a":5.6,"b":-2.5,"c":"cyan","d":"l"},{"a":7.2,"b":-2.0,"c":"cyan","d":"l"},{"a":7.3,"b":-1.6,"c":"cyan","d":"l"},{"a":8.0,"b":-1.8,"c":"cyan","d":"l"},{"a":8.9,"b":-1.0,"c":"cyan","d":"l"},{"a":10.0,"b":-0.5,"c":"cyan","d":"l"},{"a":8.2,"b":-0.9,"c":"cyan","d":"l"},{"a":6.3,"b":-2.2,"c":"cyan","d":"l"},{"a":3.9,"b":-2.3,"c":"cyan","d":"l"},{"a":7.9,"b":-2.0,"c":"cyan","d":"l"},{"a":4.5,"b":-2.3,"c":"cyan","d":"l"},{"a":5.3,"b":-2.5,"c":"cyan","d":"l"},{"a":6.5,"b":-2.6,"c":"cyan","d":"l"},{"a":7.0,"b":-2.3,"c":"cyan","d":"l"},{"a":7.4,"b":-2.2,"c":"cyan","d":"l"},{"a":7.5,"b":-1.0,"c":"cyan","d":"l"},{"a":8.0,"b":-1.2,"c":"cyan","d":"l"},{"a":8.3,"b":-0.4,"c":"cyan","d":"l"},{"a":9.0,"b":-0.4,"c":"cyan","d":"l"},{"a":9.6,"b":-0.4,"c":"cyan","d":"l"},{"a":10.2,"b":-0.3,"c":"cyan","d":"l"},{"a":10.9,"b":-0.1,"c":"cyan","d":"l"},{"a":8.9,"b":0.2,"c":"cyan","d":"l"},{"a":6.3,"b":-1.5,"c":"cyan","d":"l"},{"a":7.0,"b":-1.3,"c":"cyan","d":"i"},{"a":8.3,"b":-1.5,"c":"cyan","d":"l"},
{"a":11.3,"b":1.0,"c":"lpurple","d":"l"},{"a":11.65,"b":1.4,"c":"lpurple","d":"l"},{"a":12.15,"b":0.5,"c":"lpurple","d":"l"},{"a":11.9,"b":0.0,"c":"lpurple","d":"l"},{"a":11.3,"b":-0.4,"c":"lpurple","d":"l"},{"a":11.9,"b":-0.9,"c":"lpurple","d":"l"},{"a":12.4,"b":-1.25,"c":"lpurple","d":"l"},{"a":11.65,"b":-1.5,"c":"lpurple","d":"l"},{"a":12.25,"b":-0.4,"c":"lpurple","d":"l"},{"a":13.35,"b":-1.15,"c":"lpurple","d":"l"},{"a":13.7,"b":-1.0,"c":"lpurple","d":"l"},{"a":14.05,"b":-1.25,"c":"lpurple","d":"l"},{"a":13.6,"b":-0.65,"c":"lpurple","d":"l"},{"a":13.8,"b":-1.35,"c":"lpurple","d":"l"},{"a":11.6,"b":0.6,"c":"lpurple","d":"l"},{"a":11.8,"b":-0.4,"c":"lpurple","d":"l"},{"a":11.4,"b":0.6,"c":"lpurple","d":"l"},{"a":12.0,"b":0.3,"c":"lpurple","d":"l"},{"a":11.7,"b":-0.2,"c":"lpurple","d":"l"},{"a":11.5,"b":-0.7,"c":"lpurple","d":"l"},{"a":12.0,"b":-1.3,"c":"lpurple","d":"l"},{"a":13.6,"b":-1.2,"c":"lpurple","d":"l"},{"a":13.9,"b":-0.8,"c":"lpurple","d":"l"},
{"a":-8.3,"b":-0.15,"c":"green","d":"f"},{"a":-8.4,"b":-0.75,"c":"green","d":"f"},{"a":-7.9,"b":-1.15,"c":"green","d":"f"},{"a":-9.85,"b":-1.9,"c":"green","d":"f"},{"a":-9.5,"b":-2.9,"c":"green","d":"f"},{"a":-10.6,"b":-3.55,"c":"green","d":"f"},{"a":-9.5,"b":-4.05,"c":"green","d":"f"},{"a":-10.5,"b":-3.45,"c":"green","d":"f"},
{"a":2.4,"b":3.65,"c":"green","d":"i"},{"a":5.45,"b":0.5,"c":"green","d":"i"},{"a":1.9,"b":-0.8,"c":"green","d":"i"},{"a":2.35,"b":-1.4,"c":"green","d":"i"},{"a":-6.1,"b":0.05,"c":"green","d":"i"},{"a":-7.4,"b":-1.4,"c":"green","d":"i"},{"a":-6.35,"b":-1.25,"c":"green","d":"i"},{"a":-5.75,"b":-1.05,"c":"green","d":"i"},{"a":-6.0,"b":-1.15,"c":"green","d":"i"},{"a":-6.6,"b":-1.2,"c":"green","d":"m"},{"a":-6.2,"b":-0.9,"c":"green","d":"i"},{"a":-8.4,"b":-2.05,"c":"green","d":"i"},{"a":-8.8,"b":-2.05,"c":"green","d":"i"},{"a":-9.25,"b":-2.3,"c":"green","d":"i"},{"a":-9.4,"b":-2.7,"c":"green","d":"m"},{"a":-10.05,"b":-3.55,"c":"green","d":"i"},{"a":-9.75,"b":-3.45,"c":"green","d":"m"},{"a":-10.7,"b":-4.2,"c":"green","d":"s"},{"a":-6.9,"b":-0.15,"c":"green","d":"s"},{"a":-8.6,"b":-2.1,"c":"green","d":"i"},{"a":-9.0,"b":-2.3,"c":"green","d":"m"},{"a":-6.3,"b":-1.0,"c":"green","d":"i"},
{"a":-10.25,"b":-1.25,"c":"lgreen","d":"f"},{"a":-9.85,"b":-1.9,"c":"lgreen","d":"f"},{"a":-11.0,"b":0.05,"c":"lgreen","d":"f"},
{"a":-5.3,"b":12.6,"c":"lgreen","d":"s"},{"a":-12.1,"b":0.0,"c":"lgreen","d":"i"},{"a":-13.15,"b":-0.4,"c":"lgreen","d":"s"},{"a":-12.65,"b":-0.45,"c":"lgreen","d":"m"},{"a":-10.95,"b":-0.9,"c":"lgreen","d":"l"},{"a":-10.6,"b":-0.75,"c":"lgreen","d":"l"},{"a":-10.25,"b":-0.75,"c":"lgreen","d":"l"},{"a":-10.0,"b":-0.8,"c":"lgreen","d":"l"},{"a":-10.6,"b":-1.0,"c":"lgreen","d":"l"},{"a":-10.95,"b":-1.15,"c":"lgreen","d":"l"},{"a":4.2,"b":-0.7,"c":"lgreen","d":"i"},
{"a":-0.75,"b":7.6,"c":"red","d":"s"},{"a":-5.8,"b":-5.2,"c":"red","d":"i"},{"a":-5.7,"b":-5.3,"c":"red","d":"i"},{"a":-5.6,"b":-5.4,"c":"red","d":"i"},{"a":-5.45,"b":-5.5,"c":"red","d":"i"},{"a":-5.35,"b":-5.65,"c":"red","d":"i"},
{"a":-12.7,"b":-20.55,"c":"purple","d":"f"},{"a":-12.95,"b":-20.4,"c":"purple","d":"t"},{"a":-12.8,"b":-20.5,"c":"purple","d":"t"}
]},
"mark":{"type":"point","filled":true,"strokeWidth":0},
"encoding":{
"x":{"field":"a","type":"quantitative","scale":{"domain":[-16.25,20.07],"nice":false,"zero":false},"axis":{"values":[-15,-10,-5,0,5,10,15],"labels":false,"ticks":false,"grid":true,"gridColor":"#ececec","gridWidth":1.2,"domainColor":"#666","domainWidth":2,"title":"UMAP_1","titleFont":"Liberation Sans","titleFontStyle":"italic","titleFontWeight":"normal","titleFontSize":11,"titleColor":"#666","titlePadding":9}},
"y":{"field":"b","type":"quantitative","scale":{"domain":[-22.4,17.6],"nice":false,"zero":false},"axis":{"values":[-20,-10,0,10],"labels":false,"ticks":false,"grid":true,"gridColor":"#ececec","gridWidth":1.2,"domainColor":"#666","domainWidth":2,"title":"UMAP_2","titleFont":"Liberation Sans","titleFontStyle":"italic","titleFontWeight":"normal","titleFontSize":11,"titleColor":"#666","titlePadding":9}},
"color":{"field":"c","type":"nominal","legend":null,"scale":{"domain":["grey","brown","blue","lblue","orange","lorange","olive","pink","salmon","cyan","lpurple","green","lgreen","red","purple"],"range":["#c7c7c7","#8c564b","#1f77b4","#aec7e8","#ff7f0e","#ffbb78","#dbdb8d","#f7b6d2","#ff9896","#9edae5","#c5b0d5","#2ca02c","#98df8a","#d62728","#9467bd"]}},
"size":{"field":"d","type":"nominal","legend":null,"scale":{"type":"ordinal","domain":["l","i","m","s","f","t"],"range":[135,85,45,16,16,9]}},
"opacity":{"field":"d","type":"nominal","legend":null,"scale":{"type":"ordinal","domain":["l","i","m","s","f","t"],"range":[1,1,1,1,0.3,1]}}
}},
{"data":{"values":[{"a":10.85,"b":2.3,"o":"right"},{"a":11.55,"b":2.0,"o":"left"},{"a":0.2,"b":-0.8,"o":"right"},{"a":5.8,"b":-1.3,"o":"right"},{"a":6.35,"b":-1.9,"o":"low"},{"a":5.4,"b":-3.0,"o":"low"},{"a":13.2,"b":-1.2,"o":"right"},{"a":14.15,"b":-0.9,"o":"left"}]},
"mark":{"type":"point","filled":false,"color":"#111","strokeWidth":1.5,"opacity":1,"size":110},
"encoding":{"x":{"field":"a","type":"quantitative"},"y":{"field":"b","type":"quantitative"},
"shape":{"field":"o","type":"nominal","legend":null,"scale":{"domain":["right","left","low"],"range":["M0.7,-0.7A1,1 0 1 0 0.7,0.7","M-0.7,-0.7A1,1 0 0 1 1,0","M-1,0A1,1 0 0 0 1,0"]}}}}
]}
]}
],"spacing":74}
